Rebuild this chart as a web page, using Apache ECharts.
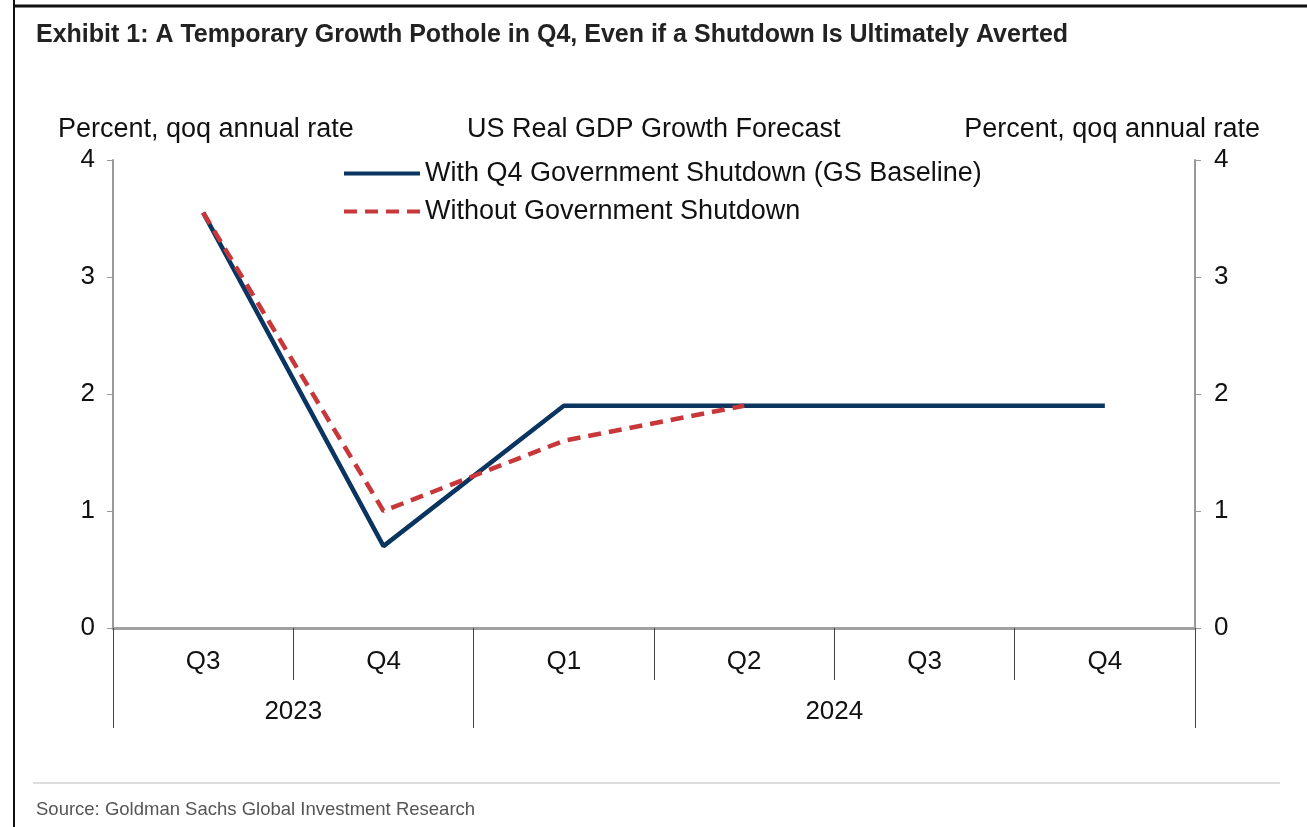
<!DOCTYPE html>
<html>
<head>
<meta charset="utf-8">
<script src="https://cdn.jsdelivr.net/npm/echarts@6/dist/echarts.min.js"></script>
<style>html,body{margin:0;padding:0;background:#fff}#c{width:1307px;height:827px}</style>
</head>
<body>
<div id="c"></div>
<script>
const quarters = ['Q3', 'Q4', 'Q1', 'Q2', 'Q3', 'Q4'];
const years = ['2023', '2024'];
const yearCenters = [1, 4];      // positions in quarter units
const yearBoundaries = [0, 2, 6];
const withShutdown = [3.55, 0.70, 1.90, 1.90, 1.90, 1.90];
const withoutShutdown = [3.55, 1.00, 1.60, 1.90, null, null];
const yTicks = [0, 1, 2, 3, 4];

const FONT = 'Liberation Sans, Arial, sans-serif';
const NARROW = '"Liberation Sans Narrow", "Arial Narrow", "Liberation Sans", sans-serif';

const chart = echarts.init(document.getElementById('c'), null, {renderer: 'canvas'});
chart.setOption({
  backgroundColor: '#fff',
  animation: false,
  title: [
    {text: 'Exhibit 1: A Temporary Growth Pothole in Q4, Even if a Shutdown Is Ultimately Averted',
     left: 31, top: 18, textStyle: {fontFamily: NARROW, fontWeight: 'bold', fontSize: 25, color: '#222'}},
    {text: 'Percent, qoq annual rate', left: 53, top: 111, textStyle: {fontFamily: FONT, fontWeight: 'normal', fontSize: 27, color: '#111'}},
    {text: 'US Real GDP Growth Forecast', left: 462, top: 111, textStyle: {fontFamily: FONT, fontWeight: 'normal', fontSize: 27, color: '#111'}},
    {text: 'Percent, qoq annual rate', right: 42, top: 111, textStyle: {fontFamily: FONT, fontWeight: 'normal', fontSize: 27, color: '#111'}},
    {text: 'Source: Goldman Sachs Global Investment Research', left: 31, top: 795, textStyle: {fontFamily: NARROW, fontWeight: 'normal', fontSize: 18.5, color: '#555'}}
  ],
  graphic: [
    {type: 'line', shape: {x1: 14, y1: 0, x2: 14, y2: 827}, style: {stroke: '#111', lineWidth: 2}},
    {type: 'line', shape: {x1: 13, y1: 6, x2: 1307, y2: 6}, style: {stroke: '#111', lineWidth: 3}},
    {type: 'line', shape: {x1: 33, y1: 783, x2: 1280, y2: 783}, style: {stroke: '#ddd', lineWidth: 2}}
  ],
  legend: {
    orient: 'vertical', left: 337, top: 155, itemWidth: 76, itemHeight: 20, itemGap: 11,
    itemStyle: {opacity: 0},
    lineStyle: {width: 4},
    textStyle: {fontFamily: FONT, fontSize: 27, color: '#111', lineHeight: 20},
    data: ['With Q4 Government Shutdown (GS Baseline)', 'Without Government Shutdown']
  },
  grid: {left: 113, right: 112, top: 160, bottom: 199},
  xAxis: [
    {type: 'category', data: quarters, boundaryGap: true, position: 'bottom',
     axisLine: {lineStyle: {color: '#a0a0a0', width: 3}},
     axisTick: {show: true, length: 52, lineStyle: {color: '#444', width: 1}},
     axisLabel: {margin: 21, fontFamily: FONT, fontSize: 26, color: '#111'}},
    {type: 'value', min: 0, max: 6, position: 'bottom', gridIndex: 0,
     axisLine: {show: false},
     splitLine: {show: false},
     axisTick: {show: true, length: 100, customValues: yearBoundaries, lineStyle: {color: '#444', width: 1}},
     axisLabel: {margin: 71, customValues: yearCenters, fontFamily: FONT, fontSize: 26, color: '#111',
       formatter: v => years[yearCenters.indexOf(v)] || ''}}
  ],
  yAxis: [
    {type: 'value', min: 0, max: 4, interval: 1, position: 'left',
     axisLine: {show: true, lineStyle: {color: '#999', width: 2}},
     axisTick: {show: true, length: 6, lineStyle: {color: '#999'}},
     splitLine: {show: false},
     axisLabel: {margin: 18, fontFamily: FONT, fontSize: 26, color: '#111'}},
    {type: 'value', min: 0, max: 4, interval: 1, position: 'right',
     axisLine: {show: true, lineStyle: {color: '#999', width: 2}},
     axisTick: {show: true, length: 6, lineStyle: {color: '#999'}},
     splitLine: {show: false},
     axisLabel: {margin: 19, fontFamily: FONT, fontSize: 26, color: '#111'}}
  ],
  series: [
    {name: 'With Q4 Government Shutdown (GS Baseline)', type: 'line', data: withShutdown,
     symbol: 'none', lineStyle: {color: '#0b3561', width: 4.5}, itemStyle: {color: '#0b3561'}, z: 2},
    {name: 'Without Government Shutdown', type: 'line', data: withoutShutdown,
     symbol: 'none', lineStyle: {color: '#c8373a', width: 4.5, type: [13, 8]}, itemStyle: {color: '#c8373a'}, z: 3}
  ]
});
</script>
</body>
</html>
